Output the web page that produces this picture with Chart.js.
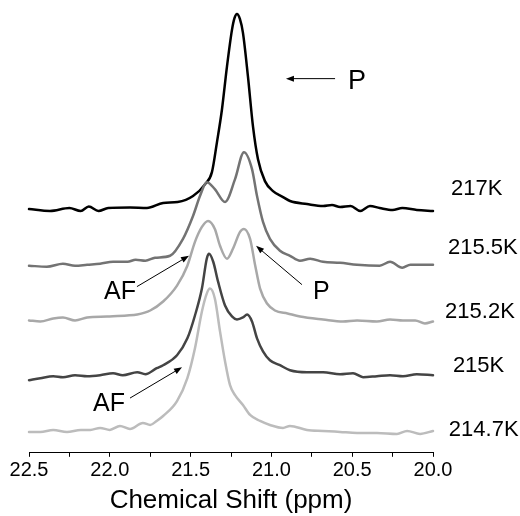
<!DOCTYPE html>
<html>
<head>
<meta charset="utf-8">
<script src="https://cdn.jsdelivr.net/npm/chart.js@4/dist/chart.umd.min.js"></script>
<style>
  html, body { margin: 0; padding: 0; background: #fff; }
  #wrap { width: 520px; height: 516px; }
</style>
</head>
<body>
<div id="wrap"><canvas id="nmr" width="520" height="516"></canvas></div>
<script>
// spectra: shift (ppm) and intensity above each trace's baseline
const shift217  = [22.50, 22.37, 22.25, 22.18, 22.13, 22.07, 22.01, 21.875, 21.77, 21.67, 21.58, 21.485, 21.41, 21.368, 21.337, 21.306, 21.275, 21.244, 21.228, 21.213, 21.195, 21.176, 21.145, 21.114, 21.083, 21.04, 20.99, 20.928, 20.885, 20.78, 20.68, 20.625, 20.575, 20.51, 20.45, 20.39, 20.33, 20.25, 20.19, 20.10, 20.00];
const int217    = [0, -2, 1, -2, 2.5, -2, 1, 1.5, 1, 6, 7, 13, 25, 37, 67, 100, 143, 180, 192, 196, 191, 177, 133, 83, 50, 28, 18, 12, 8, 5, 3, 4, 2, 3, -2, 3, 1, -1, 1, -1, -2];

const shift2155 = [22.50, 22.39, 22.29, 22.215, 22.14, 22.06, 21.98, 21.89, 21.84, 21.78, 21.72, 21.627, 21.547, 21.485, 21.442, 21.40, 21.35, 21.287, 21.225, 21.17, 21.12, 21.089, 21.052, 21.009, 20.947, 20.885, 20.823, 20.76, 20.68, 20.575, 20.47, 20.33, 20.266, 20.19, 20.14, 20.06, 20.00];
const int2155   = [0, -1, 2, 0, 1, 2, 4, 4, 6, 5, 8, 10, 27, 50, 70, 84, 77, 64, 87, 114, 97, 70, 44, 27, 15, 10, 5, 7, 4, 3, 1, 0, 4, -2, 1, 1, 1];

const shift2152 = [22.50, 22.43, 22.35, 22.29, 22.215, 22.14, 22.017, 21.894, 21.83, 21.75, 21.67, 21.584, 21.52, 21.473, 21.43, 21.392, 21.35, 21.318, 21.275, 21.238, 21.194, 21.17, 21.132, 21.10, 21.07, 21.027, 20.978, 20.90, 20.823, 20.68, 20.557, 20.47, 20.347, 20.266, 20.186, 20.11, 20.05, 20.00];
const int2152   = [0, -1, 2, 3, 0, 3, 4, 5, 6, 10, 19, 35, 55, 79, 94, 100, 92, 75, 62, 72, 89, 92, 82, 55, 32, 17, 10, 7, 4, 1, -1, 0, -1, 1, 0, 0, -3, -1];

const shift215  = [22.50, 22.43, 22.35, 22.29, 22.215, 22.14, 22.06, 21.98, 21.92, 21.83, 21.78, 21.71, 21.67, 21.584, 21.52, 21.473, 21.43, 21.40, 21.386, 21.36, 21.33, 21.287, 21.244, 21.213, 21.176, 21.15, 21.12, 21.089, 21.052, 21.009, 20.947, 20.885, 20.78, 20.68, 20.575, 20.495, 20.433, 20.347, 20.266, 20.186, 20.10, 20.00];
const int215    = [-2, 0, 2, 1, 3, 2, 3, 5, 3, 6, 4, 10, 13, 23, 40, 63, 90, 120, 125, 117, 97, 73, 62, 59, 61, 64, 57, 40, 27, 18, 13, 8, 6, 6, 4, 5, 1, 2, 3, 2, 4, 3];

const shift2147 = [22.50, 22.43, 22.35, 22.265, 22.18, 22.12, 22.06, 22.00, 21.937, 21.875, 21.795, 21.75, 21.71, 21.67, 21.584, 21.52, 21.473, 21.43, 21.40, 21.38, 21.35, 21.318, 21.287, 21.256, 21.225, 21.176, 21.132, 21.07, 21.009, 20.928, 20.885, 20.78, 20.68, 20.575, 20.47, 20.347, 20.223, 20.16, 20.08, 20.00];
const int2147   = [0, 0, 2, 0, 2, 2, 4, 2, 6, 3, 9, 7, 11, 16, 31, 54, 84, 121, 139, 144, 134, 101, 71, 47, 37, 27, 17, 11, 7, 4, 6, 2, 1, 0, -1, -1, -2, 1, -2, 1];

// temperatures and vertical stacking offset of each trace
const temps   = ['217K', '215.5K', '215.2K', '215K', '214.7K'];
const offsets = [245, 188, 133, 75, 21];
const shifts  = [shift217, shift2155, shift2152, shift215, shift2147];
const ints    = [int217, int2155, int2152, int215, int2147];

const xTicks = [22.5, 22.0, 21.5, 21.0, 20.5, 20.0];

// styling
const colors = ['#000000', '#737373', '#a8a8a8', '#444444', '#bcbcbc'];
const FONT = '"Liberation Sans", Arial, sans-serif';

// where the temperature labels sit (ppm, height)
const tempPos = [[19.889, 265], [19.907, 206], [19.925, 142], [19.877, 87], [19.902, 23]];

// arrows: [fromPpm, fromVal, toPpm, toVal]
const arrows = [
  [20.606, 376, 20.910, 376],
  [21.832, 167, 21.510, 198],
  [20.811, 169, 21.095, 208],
  [21.875, 55, 21.553, 86]
];
// notes: [text, ppm, val, align]
const notes = [
  ['P', 20.526, 373, 'left'],
  ['AF', 21.838, 161, 'right'],
  ['P', 20.743, 161, 'left'],
  ['AF', 21.906, 49, 'right']
];

const datasets = temps.map((t, i) => ({
  label: t,
  data: shifts[i].map((s, k) => ({ x: s, y: offsets[i] + ints[i][k] })),
  borderColor: colors[i],
  borderWidth: 2.5,
  pointRadius: 0,
  fill: false,
  cubicInterpolationMode: 'monotone',
  borderJoinStyle: 'round',
  borderCapStyle: 'round',
  clip: false
})).reverse();

const annot = {
  id: 'annot',
  afterDatasetsDraw(chart) {
    const { ctx, scales: { x, y } } = chart;
    ctx.save();
    ctx.fillStyle = '#000';
    ctx.strokeStyle = '#000';
    ctx.lineWidth = 1;

    arrows.forEach(([p0, v0, p1, v1]) => {
      const x0 = x.getPixelForValue(p0), y0 = y.getPixelForValue(v0);
      const x1 = x.getPixelForValue(p1), y1 = y.getPixelForValue(v1);
      const ang = Math.atan2(y1 - y0, x1 - x0);
      const len = 8, half = 3;
      ctx.beginPath();
      ctx.moveTo(x0, y0);
      ctx.lineTo(x1 - Math.cos(ang) * len * 0.8, y1 - Math.sin(ang) * len * 0.8);
      ctx.stroke();
      ctx.beginPath();
      ctx.moveTo(x1, y1);
      ctx.lineTo(x1 - Math.cos(ang) * len - Math.sin(ang) * half, y1 - Math.sin(ang) * len + Math.cos(ang) * half);
      ctx.lineTo(x1 - Math.cos(ang) * len + Math.sin(ang) * half, y1 - Math.sin(ang) * len - Math.cos(ang) * half);
      ctx.closePath();
      ctx.fill();
    });

    ctx.textBaseline = 'middle';
    notes.forEach(([txt, p, v, al], i) => {
      ctx.font = (i === 0 ? '27px ' : '25px ') + FONT;
      ctx.textAlign = al;
      ctx.fillText(txt, x.getPixelForValue(p), y.getPixelForValue(v));
    });

    ctx.font = '22px ' + FONT;
    ctx.textAlign = 'left';
    temps.forEach((t, i) => {
      ctx.fillText(t, x.getPixelForValue(tempPos[i][0]), y.getPixelForValue(tempPos[i][1]));
    });
    ctx.restore();
  }
};

new Chart(document.getElementById('nmr'), {
  type: 'line',
  data: { datasets },
  options: {
    responsive: false,
    animation: false,
    layout: { padding: { left: 29, right: 87, top: 5, bottom: 0 } },
    plugins: { legend: { display: false }, tooltip: { enabled: false } },
    scales: {
      x: {
        type: 'linear',
        reverse: true,
        min: 20.0,
        max: 22.5,
        border: { display: true, color: '#000', width: 1 },
        grid: { drawOnChartArea: false, drawTicks: true, tickLength: 4, color: '#000' },
        ticks: {
          stepSize: 0.25,
          maxRotation: 0,
          autoSkip: false,
          padding: 2,
          color: '#000',
          font: { family: FONT, size: 20 },
          callback: v => xTicks.some(t => Math.abs(t - v) < 1e-6) ? v.toFixed(1) : ''
        },
        title: {
          display: true,
          text: 'Chemical Shift (ppm)',
          color: '#000',
          font: { family: FONT, size: 26 },
          padding: { top: 0, bottom: 0 }
        }
      },
      y: { display: false, min: 0, max: 450 }
    }
  },
  plugins: [annot]
});
</script>
</body>
</html>
